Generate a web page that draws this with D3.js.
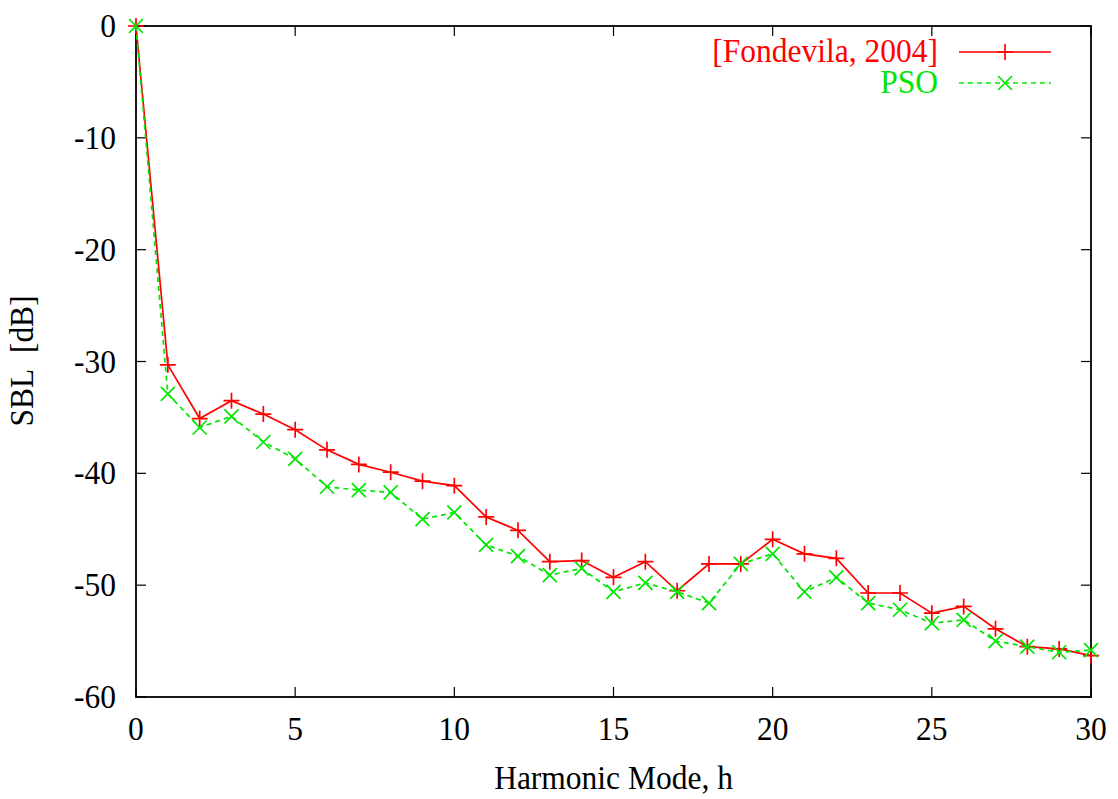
<!DOCTYPE html>
<html><head><meta charset="utf-8">
<script src="https://cdn.jsdelivr.net/npm/d3@7"></script>
<style>body{margin:0;background:#fff;}svg{display:block;}</style>
</head><body>
<svg id="c" width="1118" height="799"></svg>
<script>
const harmonics = [0,1,2,3,4,5,6,7,8,9,10,11,12,13,14,15,16,17,18,19,20,21,22,23,24,25,26,27,28,29,30];
const fondevila = [0,-30.3,-35.1,-33.5,-34.7,-36.1,-37.9,-39.2,-39.9,-40.7,-41.1,-43.9,-45.1,-47.9,-47.8,-49.3,-47.9,-50.5,-48.1,-48.1,-45.9,-47.2,-47.6,-50.7,-50.7,-52.5,-51.9,-53.9,-55.5,-55.7,-56.3];
const pso = [0,-32.9,-35.9,-34.9,-37.2,-38.7,-41.2,-41.5,-41.7,-44.1,-43.5,-46.4,-47.4,-49.1,-48.5,-50.6,-49.8,-50.6,-51.6,-48.1,-47.2,-50.6,-49.3,-51.6,-52.2,-53.4,-53.1,-55.0,-55.5,-56.0,-55.8];
const xTicks = [0,5,10,15,20,25,30];
const yTicks = [0,-10,-20,-30,-40,-50,-60];
const seriesNames = ["[Fondevila, 2004]","PSO"];
const xTitle = "Harmonic Mode, h";
const yTitle = "SBL\u00a0\u00a0[dB]";

const svg = d3.select("#c");
const L=136, R=1091, T=26, B=697;
const x = d3.scaleLinear().domain([0,30]).range([L,R]);
const y = d3.scaleLinear().domain([-60,0]).range([B,T]);
const font = "'Liberation Serif','DejaVu Serif',serif";
const fs = 31.5, sy = 1.07;
const red = "#ff0000", green = "#00e600";

const g = svg.append("g");
function label(px,py,txt,anchor,color,rot){
  const tr = `translate(${px},${py})` + (rot?` rotate(${rot})`:"") + ` scale(1,${sy})`;
  return g.append("text").attr("transform",tr).attr("text-anchor",anchor)
    .attr("font-family",font).attr("font-size",fs).attr("fill",color||"#000").text(txt);
}
const tl = 10;
xTicks.forEach(t=>{
  g.append("line").attr("x1",x(t)).attr("x2",x(t)).attr("y1",B).attr("y2",B-tl).attr("stroke","#000").attr("stroke-width",1.2);
  g.append("line").attr("x1",x(t)).attr("x2",x(t)).attr("y1",T).attr("y2",T+tl).attr("stroke","#000").attr("stroke-width",1.2);
  label(x(t),B+43,t,"middle");
});
yTicks.forEach(t=>{
  g.append("line").attr("x1",L).attr("x2",L+tl).attr("y1",y(t)).attr("y2",y(t)).attr("stroke","#000").attr("stroke-width",1.2);
  g.append("line").attr("x1",R).attr("x2",R-tl).attr("y1",y(t)).attr("y2",y(t)).attr("stroke","#000").attr("stroke-width",1.2);
  label(116,y(t)+11,t,"end");
});
g.append("rect").attr("x",L).attr("y",T).attr("width",R-L).attr("height",B-T)
 .attr("fill","none").attr("stroke","#000").attr("stroke-width",1.8);

label((L+R)/2,789,xTitle,"middle");
label(33,361,yTitle,"middle",null,-90);

const line = d3.line().x((d,i)=>x(harmonics[i])).y(d=>y(d));
const plusPath = s=>`M${-s},0H${s}M0,${-s}V${s}`;
const crossPath = s=>`M${-s},${-s}L${s},${s}M${-s},${s}L${s},${-s}`;

function drawSeries(vals,color,dash,marker){
  g.append("path").datum(vals).attr("d",line).attr("fill","none").attr("stroke",color)
   .attr("stroke-width",1.7).attr("stroke-dasharray",dash);
  g.selectAll(null).data(vals).enter().append("path")
   .attr("transform",(d,i)=>`translate(${x(harmonics[i])},${y(d)})`)
   .attr("d",marker).attr("fill","none").attr("stroke",color).attr("stroke-width",1.7);
}
drawSeries(fondevila,red,null,plusPath(8));
drawSeries(pso,green,"5,4",crossPath(7));

const leg = [{name:seriesNames[0],c:red,dash:null,m:plusPath(8),yy:52},{name:seriesNames[1],c:green,dash:"5,4",m:crossPath(7),yy:83}];
leg.forEach(l=>{
  label(938,l.yy+10,l.name,"end",l.c);
  g.append("line").attr("x1",959).attr("x2",1051).attr("y1",l.yy).attr("y2",l.yy)
   .attr("stroke",l.c).attr("stroke-width",1.7).attr("stroke-dasharray",l.dash);
  g.append("path").attr("transform",`translate(1005,${l.yy})`).attr("d",l.m)
   .attr("fill","none").attr("stroke",l.c).attr("stroke-width",1.7);
});
</script>
</body></html>
